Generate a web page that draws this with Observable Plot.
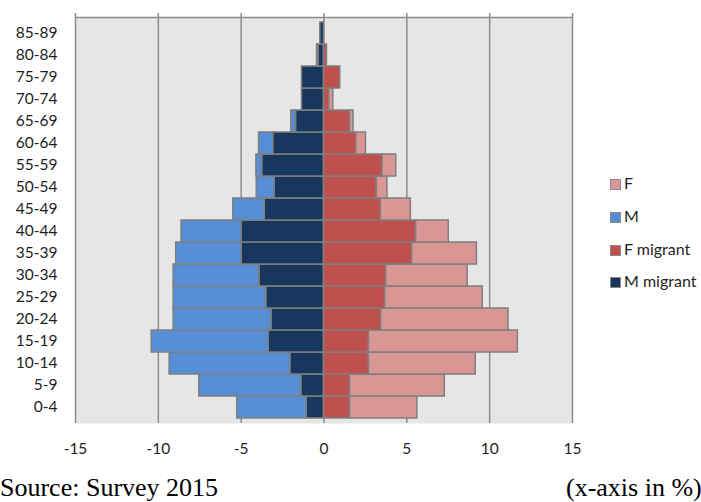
<!DOCTYPE html>
<html>
<head>
<meta charset="utf-8">
<script src="https://cdn.jsdelivr.net/npm/d3@7"></script>
<script src="https://cdn.jsdelivr.net/npm/@observablehq/plot@0.6"></script>
<style>
  html, body { margin: 0; padding: 0; background: #fff; }
  #wrap { position: relative; width: 701px; height: 502px; overflow: hidden; }
  #chart { position: absolute; left: 0; top: 0; }
  .legend { position: absolute; left: 610px; top: 0; font-family: Lato, "Open Sans", sans-serif; font-size: 16px; color: #1e1e1e; }
  .legend .item { position: absolute; left: 0; white-space: nowrap; height: 16px; line-height: 16px; }
  .legend .sw { display: inline-block; width: 9px; height: 9px; border: 1px solid #8a8a8a; vertical-align: -1px; margin-right: 3px; }
  .caption { position: absolute; top: 475px; font-family: "Liberation Serif", "Times New Roman", serif; font-size: 26px; line-height: 26px; color: #000; white-space: nowrap; }
</style>
</head>
<body>
<div id="wrap">
  <div id="chart"></div>
  <div class="legend" id="legend"></div>
  <div class="caption" style="left:0px;">Source: Survey 2015</div>
  <div class="caption" style="left:566px;">(x-axis in %)</div>
</div>
<script>
// Age groups, youngest first
const ages = ["0-4", "5-9", "10-14", "15-19", "20-24", "25-29", "30-34", "35-39", "40-44",
              "45-49", "50-54", "55-59", "60-64", "65-69", "70-74", "75-79", "80-84", "85-89"];

// Shares of population (%) per age group
const maleMigrant   = [1.05, 1.37, 2.03, 3.34, 3.17, 3.49, 3.90, 4.98, 4.98, 3.58, 2.99, 3.73, 3.07, 1.69, 1.33, 1.33, 0.33, 0.22];
const male          = [4.19, 6.16, 7.29, 7.06, 5.91, 5.59, 5.18, 3.94, 3.62, 1.90, 1.07, 0.35, 0.85, 0.28, 0.00, 0.00, 0.09, 0.00];
const femaleMigrant = [1.57, 1.57, 2.71, 2.71, 3.45, 3.69, 3.75, 5.32, 5.56, 3.43, 3.19, 3.53, 1.95, 1.57, 0.32, 0.98, 0.18, 0.00];
const female        = [4.07, 5.72, 6.45, 8.99, 7.69, 5.89, 4.92, 3.91, 1.97, 1.81, 0.64, 0.83, 0.58, 0.21, 0.24, 0.00, 0.00, 0.00];

const xTicks = [-15, -10, -5, 0, 5, 10, 15];

const legendNames = ["F", "M", "F migrant", "M migrant"];
const legendColors = ["#d99694", "#558ed5", "#c0504d", "#17375e"];

// Long table: males to the left (negative), migrants stacked nearest the axis
const rows = [];
ages.forEach((age, i) => {
  rows.push({age, group: "M migrant", value: -maleMigrant[i]});
  rows.push({age, group: "M", value: -male[i]});
  rows.push({age, group: "F migrant", value: femaleMigrant[i]});
  rows.push({age, group: "F", value: female[i]});
});

const frameWidth = 701 - 75 - 129;

const chart = Plot.plot({
  width: 701,
  height: 460,
  marginLeft: 75,
  marginRight: 129,
  marginTop: 17,
  marginBottom: 37,
  style: {fontFamily: "Lato, 'Open Sans', sans-serif", fontSize: "15.5px", color: "#1e1e1e", background: "transparent"},
  x: {domain: [-15, 15], label: null},
  y: {domain: ages.slice().reverse(), padding: 0, label: null},
  color: {domain: legendNames, range: legendColors},
  marks: [
    Plot.frame({fill: "#e6e6e6", stroke: null}),
    Plot.ruleX(xTicks, {stroke: "#8c8c8c", strokeWidth: 1.5, strokeOpacity: 1}),
    // top border line only
    Plot.frame({fill: null, stroke: "#8c8c8c", strokeWidth: 1.5, strokeDasharray: `${frameWidth} 5000`}),
    Plot.axisX(xTicks, {anchor: "top", tickSize: 5, tickFormat: () => "", label: null, stroke: "#8c8c8c", strokeWidth: 1.5}),
    Plot.barX(rows.filter(d => d.value !== 0), Plot.stackX({
      y: "age",
      x: "value",
      z: "group",
      fill: "group",
      order: ["M migrant", "M", "F migrant", "F"],
      stroke: "#7f7f7f",
      strokeWidth: 1.5
    })),
    Plot.axisX(xTicks, {anchor: "bottom", tickSize: 0, tickPadding: 19, tickFormat: d => String(d), label: null, fill: "#1e1e1e"}),
    Plot.axisY({anchor: "left", tickSize: 0, tickPadding: 18, label: null, fill: "#1e1e1e"})
  ]
});
document.getElementById("chart").append(chart);

// Legend
const legend = d3.select("#legend");
legendNames.forEach((name, i) => {
  const item = legend.append("div").attr("class", "item").style("top", `${175 + i * 32.8}px`);
  item.append("span").attr("class", "sw").style("background", legendColors[i]);
  item.append("span").text(name);
});
</script>
</body>
</html>
